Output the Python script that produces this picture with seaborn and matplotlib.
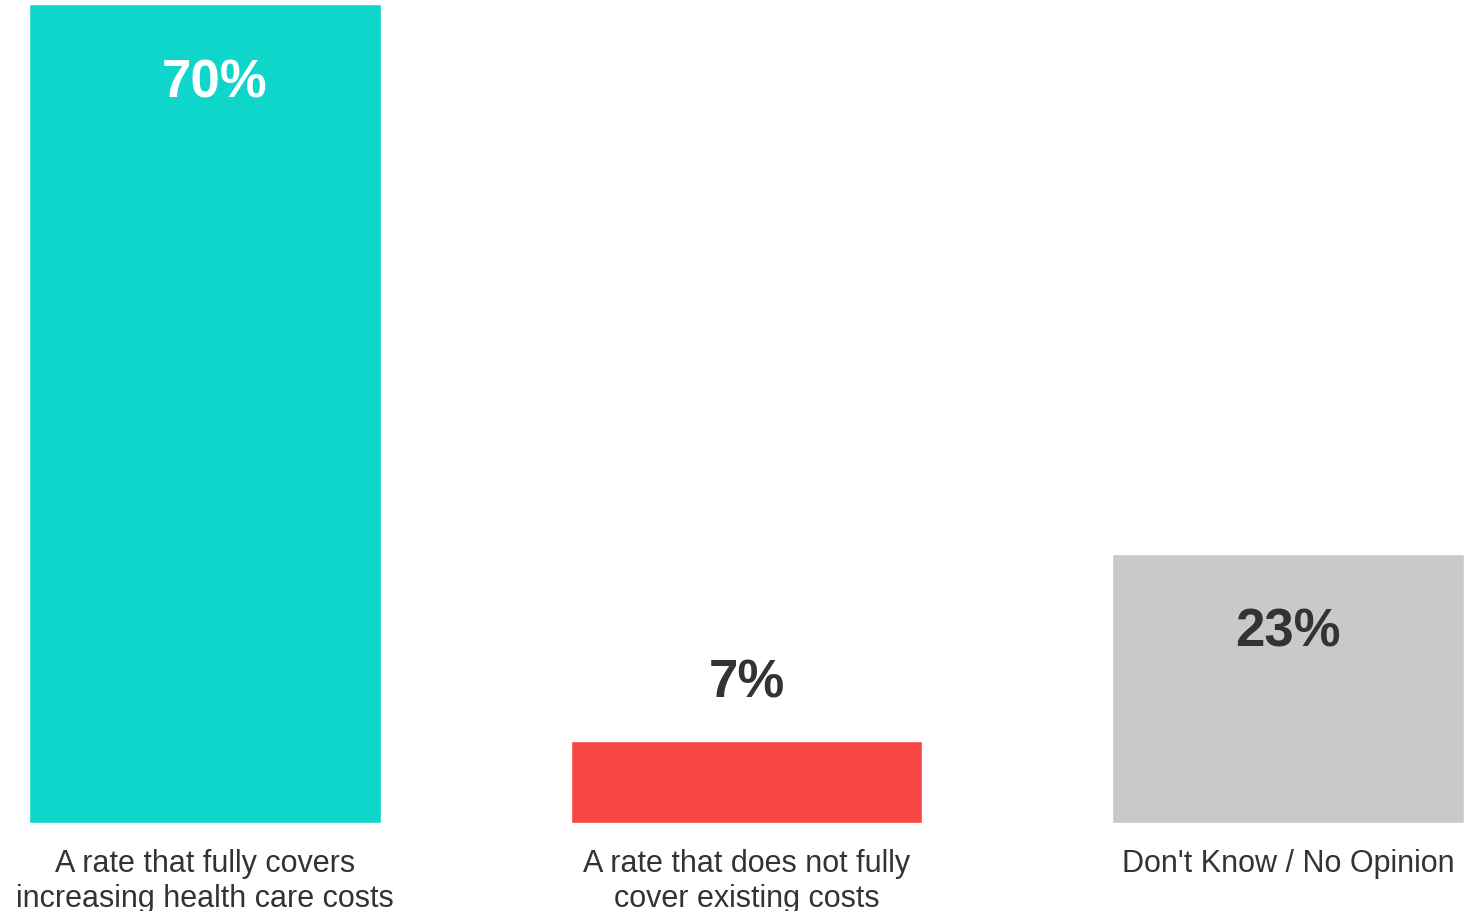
import matplotlib
matplotlib.use("Agg")
import matplotlib.pyplot as plt
import seaborn as sns
import pandas as pd

# Data
categories = ["A rate that fully covers\nincreasing health care costs",
              "A rate that does not fully\ncover existing costs",
              "Don't Know / No Opinion"]
values = [70, 7, 23]
labels = ["70%", "7%", "23%"]
colors = ["#0FD6CB", "#F64744", "#C9C9C9"]

sns.set_theme(style="white")
plt.rcParams['font.family'] = ['Liberation Sans', 'DejaVu Sans']

df = pd.DataFrame({"category": categories, "value": values})

fig = plt.figure(figsize=(14.66, 9.11), dpi=100)
ax = fig.add_axes([29/1466, 88/911, 1435/1466, 819/911])

sns.barplot(data=df, x="category", y="value", hue="category",
            palette=colors, width=0.65, saturation=1, legend=False, ax=ax)

ax.set_xlim(-0.325, 2.325)
ax.set_ylim(0, 70)
ax.set_xlabel("")
ax.set_ylabel("")
ax.set_yticks([])
sns.despine(ax=ax, left=True, bottom=True)
ax.tick_params(axis="x", length=0, pad=19, labelsize=22, labelcolor="#333333")
for t in ax.get_xticklabels():
    t.set_linespacing(1.2)

# value labels (inside tall bars, above short ones)
px = 70 / 819
for i, (v, lab) in enumerate(zip(values, labels)):
    if v > 15:
        # first label sits a little right of centre in the original
        dx = 10 / 541 if i == 0 else 0
        ax.text(i + dx, v - 79 * px, lab, ha="center", va="center", fontsize=38,
                fontweight="bold", color="white" if i == 0 else "#333333")
    else:
        ax.text(i, v + 58 * px, lab, ha="center", va="center", fontsize=38,
                fontweight="bold", color="#333333")

fig.savefig("out.png", dpi=100)
